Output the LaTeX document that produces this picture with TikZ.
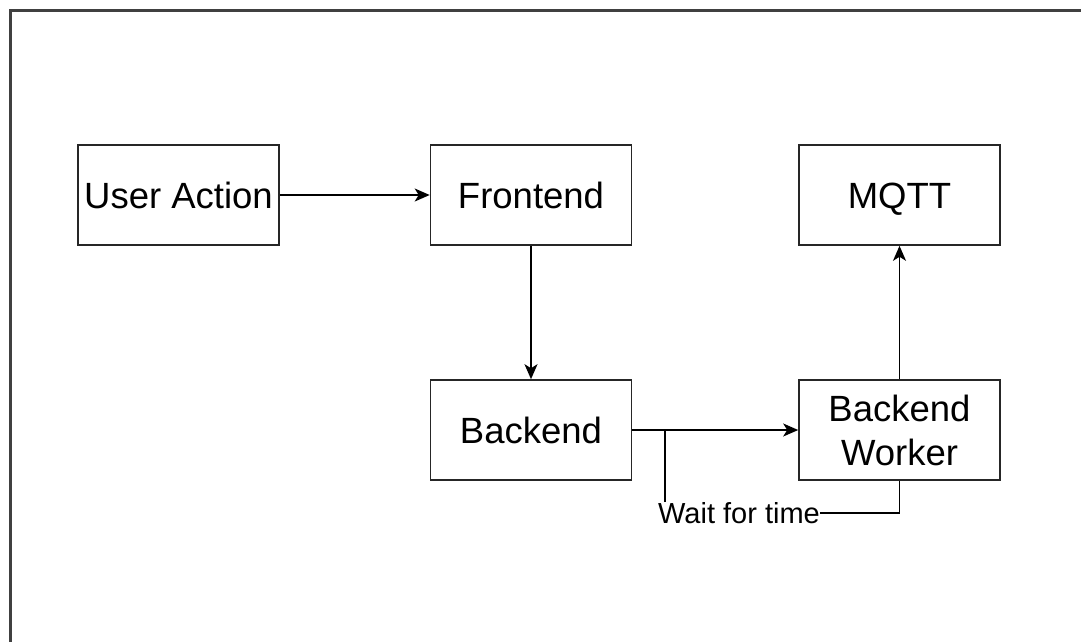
\documentclass[tikz,border=0pt]{standalone}
\usepackage{fontspec}
\setmainfont{Liberation Sans}
\usetikzlibrary{arrows.meta}
\begin{document}
\begin{tikzpicture}[x=1pt,y=-1pt,
  block/.style={draw=black!85, line width=1.6pt, minimum width=201pt, minimum height=100pt,
    inner sep=0pt, font=\fontsize{36.5}{44}\selectfont, align=center},
  oneline/.style={text height=26.3pt, text depth=0pt},
  flow/.style={draw=black, line width=1.6pt, -{Stealth[length=15pt,width=13pt,inset=4pt]}},
  link/.style={draw=black, line width=1.6pt},
  frame/.style={draw=black!75, line width=3pt}]
  \useasboundingbox (0,0) rectangle (1081,641);
  % page frame
  \draw[frame] (10.5,700) -- (10.5,10.5) -- (1200,10.5);

  % blocks
  \node[block, oneline] (user) at (178.5,195) {User Action};
  \node[block, oneline] (front) at (531,195) {Frontend};
  \node[block, oneline] (mqtt) at (899.5,195) {MQTT};
  \node[block, oneline] (back) at (531,430) {Backend};
  \node[block] (worker) at (899.5,430) {Backend\\Worker};

  % label of the timed loop
  \node[inner sep=0pt, font=\fontsize{29}{34}\selectfont] (wait) at (739,513) {Wait for time};
  \coordinate (join) at (665,430);

  % connectors
  \draw[flow] (user) -- (front);
  \draw[flow] (front) -- (back);
  \draw[flow] (back) -- (worker);
  \draw[flow] (worker) -- (mqtt);
  \draw[link] (worker.south) |- (wait.east);
  \draw[link] (wait.north -| join) -- (join);
\end{tikzpicture}
\end{document}
